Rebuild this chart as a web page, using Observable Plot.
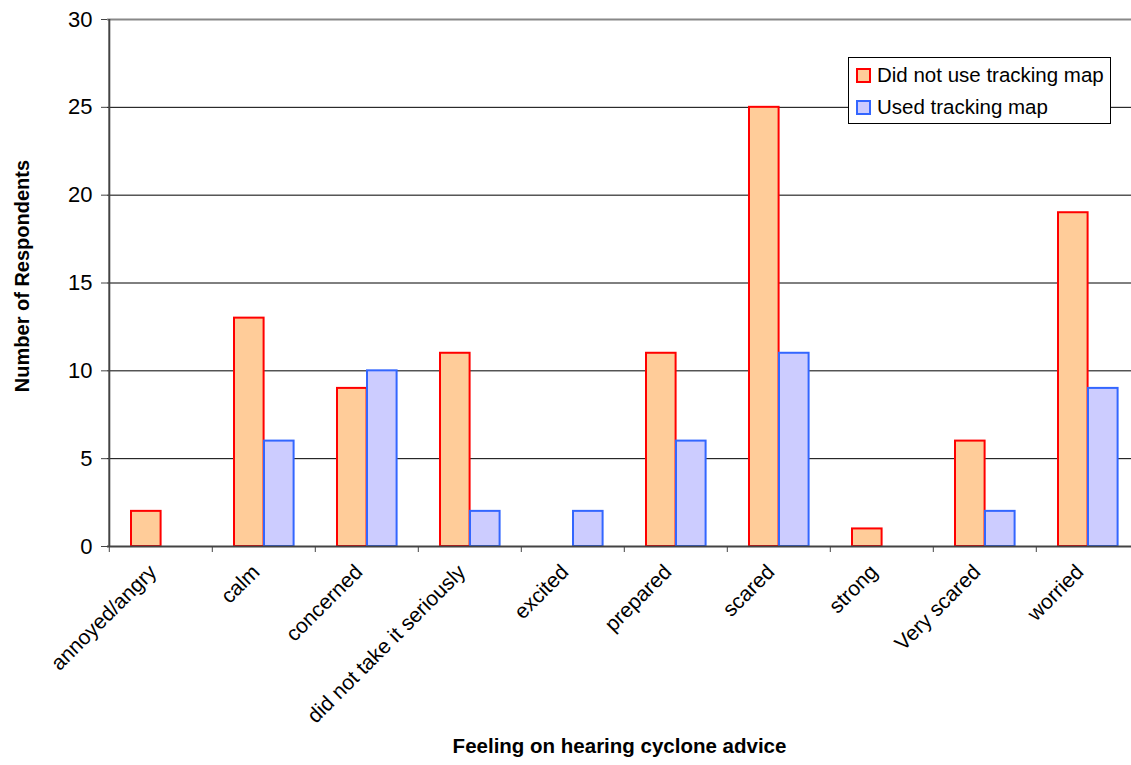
<!DOCTYPE html>
<html>
<head>
<meta charset="utf-8">
<script src="https://cdn.jsdelivr.net/npm/d3@7"></script>
<script src="https://cdn.jsdelivr.net/npm/@observablehq/plot@0.6"></script>
<style>
  html, body { margin: 0; padding: 0; background: #fff; overflow: hidden; }
  #wrap { position: relative; width: 1131px; height: 765px; overflow: hidden; }
  #chart svg { max-width: none !important; }
  #legend {
    position: absolute; left: 848px; top: 57px; width: 263px; height: 67px;
    border: 1px solid #000; background: #fff; box-sizing: border-box;
    font-family: "Liberation Sans", Arial, sans-serif; font-size: 20.5px; color: #000;
    padding: 1px 0 0 7px;
  }
  .item { display: flex; align-items: center; height: 32px; }
  .sw { width: 11px; height: 11px; border: 2px solid; margin-right: 6px; }
</style>
</head>
<body>
<div id="wrap">
  <div id="chart"></div>
  <div id="legend"></div>
</div>
<script>
const categories = ["annoyed/angry", "calm", "concerned", "did not take it seriously", "excited", "prepared", "scared", "strong", "Very scared", "worried"];
const seriesNames = ["Did not use tracking map", "Used tracking map"];
const notUsed = [2, 13, 9, 11, 0, 11, 25, 1, 6, 19];
const used = [0, 6, 10, 2, 2, 6, 11, 0, 2, 9];
const yTicks = [0, 5, 10, 15, 20, 25, 30];
const fills = ["#FFCC99", "#CCCCFF"];
const strokes = ["#FF0000", "#3366FF"];
const yTitle = "Number of Respondents";
const xTitle = "Feeling on hearing cyclone advice";

const W = 1141, ML = 107, MR = 0, MT = 19, MB = 219, H = 765;
const bw = (W - ML - MR) / categories.length;

const dNot = categories.map((c, i) => ({cat: c, v: notUsed[i]})).filter(d => d.v > 0);
const dUsed = categories.map((c, i) => ({cat: c, v: used[i]})).filter(d => d.v > 0);

const font = "'Liberation Sans', Arial, sans-serif";

const chart = Plot.plot({
  width: W, height: H,
  marginLeft: ML, marginRight: MR, marginTop: MT, marginBottom: MB,
  style: {fontFamily: font, fontSize: "20.5px", color: "#000", background: "#fff", overflow: "visible", maxWidth: "none"},
  x: {domain: categories, padding: 0, axis: null},
  y: {domain: [0, 30], axis: null},
  marks: [
    Plot.ruleY(yTicks.filter(t => t > 0 && t < 30), {stroke: "#000", strokeWidth: 1}),
    Plot.ruleY([30], {stroke: "#888", strokeWidth: 2}),
    Plot.barY(dNot, {x: "cat", y: "v", fill: fills[0], stroke: strokes[0], strokeWidth: 2,
      insetLeft: 22, insetRight: bw - 52}),
    Plot.barY(dUsed, {x: "cat", y: "v", fill: fills[1], stroke: strokes[1], strokeWidth: 2,
      insetLeft: 52, insetRight: bw - 82}),
    Plot.ruleY([0], {stroke: "#444", strokeWidth: 2}),
    Plot.ruleX([categories[0]], {dx: -bw / 2, stroke: "#444", strokeWidth: 2}),
    Plot.axisY({ticks: yTicks, tickSize: 6, tickPadding: 9, fontSize: 22, label: null, stroke: "#444"}),
    Plot.axisX({tickSize: 6, tickFormat: () => "", dx: -bw / 2, label: null, stroke: "#444"}),
    Plot.axisX({tickSize: 0, tickRotate: -45, tickPadding: 22, dx: -8, fontSize: 21, label: null}),
    Plot.text([yTitle], {frameAnchor: "left", textAnchor: "middle", rotate: -90, dx: -85, dy: -7, fontWeight: "bold", fontSize: 20}),
    Plot.text([xTitle], {frameAnchor: "bottom", textAnchor: "middle", dx: -5, dy: 206, fontWeight: "bold", fontSize: 20.5})
  ]
});
document.getElementById("chart").appendChild(chart);

const legend = document.getElementById("legend");
seriesNames.forEach((s, i) => {
  const it = document.createElement("div");
  it.className = "item";
  const sw = document.createElement("span");
  sw.className = "sw";
  sw.style.background = fills[i];
  sw.style.borderColor = strokes[i];
  const tx = document.createElement("span");
  tx.textContent = s;
  it.appendChild(sw); it.appendChild(tx);
  legend.appendChild(it);
});
</script>
</body>
</html>
